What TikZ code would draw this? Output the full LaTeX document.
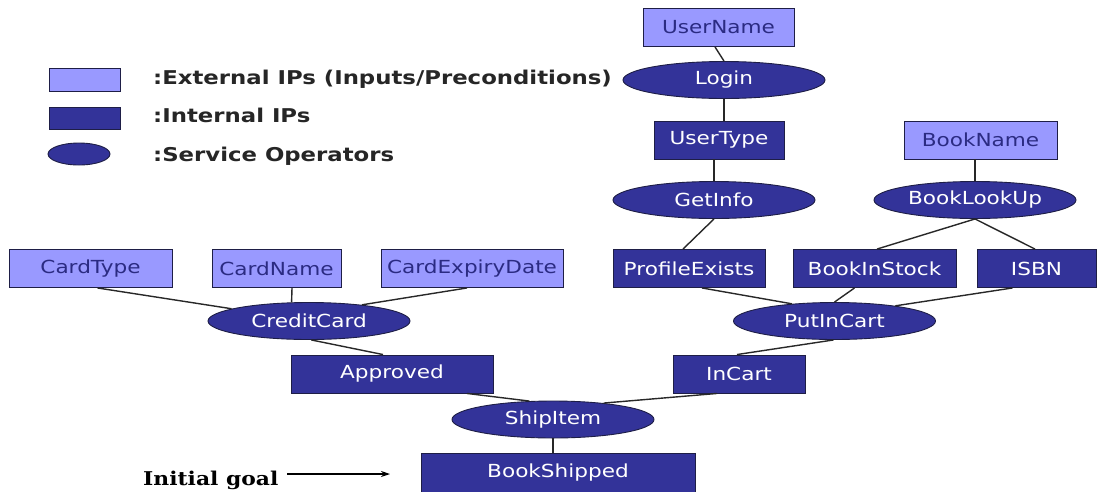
\documentclass[tikz,border=0pt]{standalone}
\usepackage{fontspec}
\usetikzlibrary{shapes.geometric,arrows.meta}
\newfontfamily\nodefont[FakeStretch=1.2]{DejaVu Sans}
\newfontfamily\legfont[FakeStretch=1.2]{DejaVu Sans}
\newfontfamily\goalfont[FakeStretch=1.15]{DejaVu Serif}
\definecolor{lightip}{RGB}{153,153,255}
\definecolor{darkip}{RGB}{51,51,153}
\definecolor{bordc}{RGB}{30,30,70}
\definecolor{edgec}{RGB}{40,40,40}
\tikzset{
  ext/.style={draw=bordc, line width=0.9pt, fill=lightip, text=darkip!85!black,
    font=\nodefont\fontsize{18}{20}\selectfont, minimum height=38pt, inner sep=0pt},
  int/.style={draw=bordc, line width=0.9pt, fill=darkip, text=white,
    font=\nodefont\fontsize{18}{20}\selectfont, minimum height=38pt, inner sep=0pt},
  op/.style={ellipse, draw=bordc, line width=0.9pt, fill=darkip, text=white,
    font=\nodefont\fontsize{18}{20}\selectfont, minimum width=202pt, minimum height=37pt, inner sep=0pt},
  conn/.style={draw=edgec, line width=1.4pt},
  legtext/.style={anchor=base west, inner sep=0pt, font=\legfont\bfseries\fontsize{19}{21}\selectfont, text=black!85},
}
\begin{document}
\begin{tikzpicture}[x=1pt,y=-1pt]
\fill[white] (0,0) rectangle (1098,491);
\useasboundingbox (0,0) rectangle (1098,491);

% legend
\node[ext, minimum width=71pt, minimum height=23pt] (legExt) at (84.5,79.5) {};
\node[int, minimum width=71pt, minimum height=22pt] (legInt) at (84.5,118) {};
\node[op, minimum width=62pt, minimum height=22pt] (legOp) at (79,154) {};
\node[legtext] (legExtT) at (153,84) {:External IPs (Inputs/Preconditions)};
\node[legtext] (legIntT) at (153,122) {:Internal IPs};
\node[legtext] (legOpT) at (153,161) {:Service Operators};

% nodes
\node[ext, minimum width=151pt] (UserName) at (718.5,27.5) {UserName};
\node[op] (Login) at (724,80) {Login};
\node[int, minimum width=130pt] (UserType) at (719,140) {UserType};
\node[op] (GetInfo) at (714,200) {GetInfo};
\node[ext, minimum width=153pt] (BookName) at (980.5,140) {BookName};
\node[op] (BookLookUp) at (975,200) {BookLookUp};
\node[ext, minimum width=163pt] (CardType) at (90.5,268.5) {CardType};
\node[ext, minimum width=129pt] (CardName) at (276.5,268.5) {CardName};
\node[ext, minimum width=182pt] (CardExpiryDate) at (472,268.5) {CardExpiryDate};
\node[int, minimum width=152pt] (ProfileExists) at (689,268.5) {ProfileExists};
\node[int, minimum width=163pt] (BookInStock) at (874.5,268.5) {BookInStock};
\node[int, minimum width=119pt] (ISBN) at (1036.5,268.5) {ISBN};
\node[op] (CreditCard) at (309,321) {CreditCard};
\node[op] (PutInCart) at (834.5,321) {PutInCart};
\node[int, minimum width=202pt] (Approved) at (392,374) {Approved};
\node[int, minimum width=132pt] (InCart) at (739,374) {InCart};
\node[op] (ShipItem) at (553,419.5) {ShipItem};
\node[int, minimum width=274pt, minimum height=40pt] (BookShipped) at (558,473) {BookShipped};

% connectors
\draw[conn] ([xshift=-3.5pt]UserName.south) -- (Login.north);
\draw[conn] (Login.south) -- (Login.south |- UserType.north);
\draw[conn] (GetInfo.north |- UserType.south) -- (GetInfo.north);
\draw[conn] (GetInfo.south) -- ([xshift=-6pt]ProfileExists.north);
\draw[conn] (BookLookUp.north |- BookName.south) -- (BookLookUp.north);
\draw[conn] (BookLookUp.south) -- ([xshift=2.5pt]BookInStock.north);
\draw[conn] (BookLookUp.south) -- ([xshift=-1.5pt]ISBN.north);
\draw[conn] ([xshift=7pt]CardType.south) -- (CreditCard.171);
\draw[conn] ([xshift=15.5pt]CardName.south) -- (CreditCard.133);
\draw[conn] ([xshift=-5pt]CardExpiryDate.south) -- (CreditCard.17);
\draw[conn] (CreditCard.-83) -- ([xshift=-9pt]Approved.north);
\draw[conn] ([xshift=13pt]ProfileExists.south) -- (PutInCart.158);
\draw[conn] ([xshift=-20pt]BookInStock.south) -- (PutInCart.north);
\draw[conn] ([xshift=-24pt]ISBN.south) -- (PutInCart.14);
\draw[conn] (PutInCart.-93) -- ([xshift=-2pt]InCart.north);
\draw[conn] ([xshift=75pt]Approved.south) -- (ShipItem.142);
\draw[conn] ([xshift=-22pt]InCart.south) -- (ShipItem.18);
\draw[conn] (ShipItem.south) -- (ShipItem.south |- BookShipped.north);

% initial goal
\node[anchor=base west, inner sep=0pt, font=\goalfont\bfseries\fontsize{19}{21}\selectfont] (goal) at (143,485) {Initial goal};
\coordinate (arrS) at (287,474);
\coordinate (arrE) at (390,474);
\draw[line width=1.2pt, -{Stealth[length=9pt,width=6pt]}] (arrS) -- (arrE);
\end{tikzpicture}
\end{document}
